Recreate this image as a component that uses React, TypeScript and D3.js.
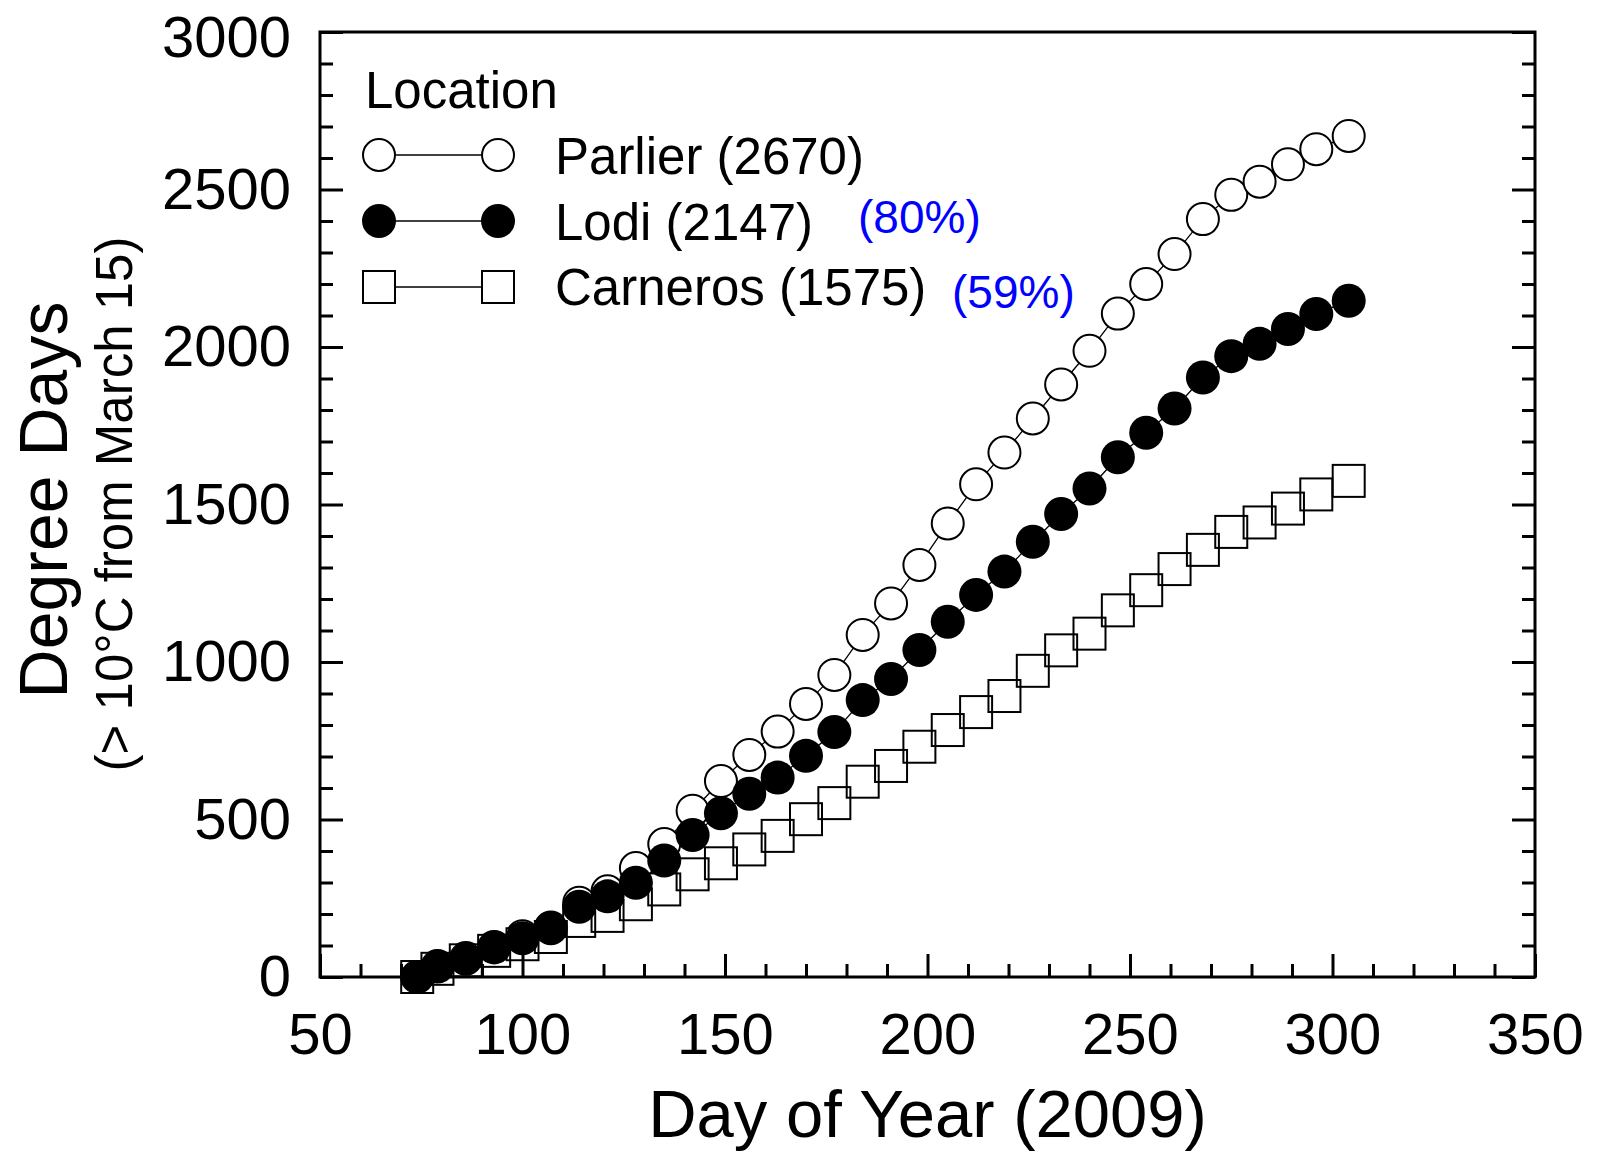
import React, { useEffect, useRef } from 'react';
import * as d3 from 'd3';

// day of year, 2009 (weekly from March 15)
const days = [74, 79, 86, 93, 100, 107, 114, 121, 128, 135, 142, 149, 156, 163, 170, 177, 184,
  191, 198, 205, 212, 219, 226, 233, 240, 247, 254, 261, 268, 275, 282, 289, 296, 304];

const parlier = [0, 35, 60, 95, 129, 157, 236, 272, 346, 422, 528, 622, 705, 779, 867, 959, 1086,
  1186, 1308, 1440, 1564, 1665, 1773, 1881, 1988, 2106, 2200, 2295, 2406, 2483, 2525, 2580, 2628, 2670];

const lodi = [0, 33, 58, 94, 123, 155, 223, 256, 299, 370, 451, 520, 582, 633, 702, 778, 879,
  946, 1038, 1128, 1213, 1287, 1382, 1470, 1551, 1650, 1728, 1805, 1903, 1971, 2010, 2057, 2105, 2147];

const carneros = [0, 26, 53, 83, 104, 127, 178, 194, 231, 278, 326, 361, 405, 448, 501, 552, 620,
  670, 731, 784, 841, 892, 972, 1037, 1090, 1164, 1228, 1295, 1356, 1413, 1443, 1487, 1532, 1575];

const xTicks = [50, 100, 150, 200, 250, 300, 350];
const yTicks = [0, 500, 1000, 1500, 2000, 2500, 3000];

const legendNames = ['Parlier (2670)', 'Lodi (2147)', 'Carneros (1575)'];
const legendPct = ['', '(80%)', '(59%)'];

const W = 1600;
const H = 1151;
const margin = { top: 32, right: 65, bottom: 174, left: 320 };
const FONT = '"Liberation Sans", Arial, Helvetica, sans-serif';

const x = d3.scaleLinear().domain([50, 350]).range([margin.left, W - margin.right]);
const y = d3.scaleLinear().domain([0, 3000]).range([H - margin.bottom, margin.top]);

const R = 16;   // marker radius / half side

export default function App() {
  const axisRef = useRef<SVGGElement>(null);

  useEffect(() => {
    const g = d3.select(axisRef.current);
    g.selectAll('*').remove();

    const xMinor = d3.range(60, 350, 10).filter(v => v % 50 !== 0);
    const yMinor = d3.range(100, 3000, 100).filter(v => v % 500 !== 0);
    const bottomY = H - margin.bottom;
    const rightX = W - margin.right;

    g.append('g').attr('transform', `translate(0,${bottomY})`)
      .call(d3.axisBottom(x).tickValues(xTicks).tickSize(-23).tickPadding(36).tickFormat(d3.format('d')));
    g.append('g').attr('transform', `translate(0,${bottomY})`)
      .call(d3.axisBottom(x).tickValues(xMinor).tickSize(-13).tickFormat(() => ''));

    const left = g.append('g').attr('transform', `translate(${margin.left},0)`)
      .call(d3.axisLeft(y).tickValues(yTicks).tickSize(-23).tickPadding(29).tickFormat(d3.format('d')));
    g.append('g').attr('transform', `translate(${margin.left},0)`)
      .call(d3.axisLeft(y).tickValues(yMinor).tickSize(-13).tickFormat(() => ''));

    g.append('g').attr('transform', `translate(${rightX},0)`)
      .call(d3.axisRight(y).tickValues(yTicks).tickSize(-23).tickFormat(() => ''));
    g.append('g').attr('transform', `translate(${rightX},0)`)
      .call(d3.axisRight(y).tickValues(yMinor).tickSize(-13).tickFormat(() => ''));

    g.selectAll('.domain').remove();
    g.selectAll('.tick line').attr('stroke', '#000').attr('stroke-width', 3);
    g.selectAll('g').attr('font-family', FONT).attr('font-size', 58);
    g.selectAll('.tick text').attr('fill', '#000');
    // top label sits a little lower in the original
    left.selectAll<SVGTextElement, number>('.tick text')
      .filter(d => d === 3000).attr('dy', '0.42em');
  }, []);

  const line = d3.line<number>().x((_, i) => x(days[i])).y(d => y(d));

  return (
    <svg width={W} height={H} style={{ position: 'absolute', left: 0, top: 0, background: '#fff' }}
      fontFamily={FONT}>
      <rect width={W} height={H} fill="#fff" />

      {/* connecting lines */}
      {[parlier, lodi, carneros].map((s, k) => (
        <path key={k} d={line(s) || ''} fill="none" stroke="#000" strokeWidth={1.3} />
      ))}

      {/* Parlier: open circles */}
      {parlier.map((v, i) => (
        <circle key={'p' + i} cx={x(days[i])} cy={y(v)} r={R} fill="#fff" stroke="#000" strokeWidth={2} />
      ))}

      {/* Carneros: open squares, fill first then outlines */}
      {carneros.map((v, i) => (
        <rect key={'cf' + i} x={x(days[i]) - R} y={y(v) - R} width={2 * R} height={2 * R} fill="#fff" />
      ))}
      {carneros.map((v, i) => (
        <rect key={'cs' + i} x={x(days[i]) - R} y={y(v) - R} width={2 * R} height={2 * R}
          fill="none" stroke="#000" strokeWidth={2} />
      ))}

      {/* Lodi: filled circles */}
      {lodi.map((v, i) => (
        <circle key={'l' + i} cx={x(days[i])} cy={y(v)} r={R + 1} fill="#000" />
      ))}

      {/* frame and ticks */}
      <rect x={margin.left} y={margin.top} width={W - margin.left - margin.right}
        height={H - margin.top - margin.bottom} fill="none" stroke="#000" strokeWidth={3} />
      <g ref={axisRef} />

      {/* axis titles */}
      <text x={(margin.left + W - margin.right) / 2} y={1137} textAnchor="middle" fontSize={67}>
        Day of Year (2009)
      </text>
      <text transform="translate(67,500) rotate(-90)" textAnchor="middle" fontSize={68}>Degree Days</text>
      <text transform="translate(132,504) rotate(-90)" textAnchor="middle" fontSize={51}>
        (&gt; 10°C from March 15)
      </text>

      {/* legend */}
      <text x={365} y={108} fontSize={51}>Location</text>
      {legendNames.map((name, k) => {
        const cy = [155, 221, 287][k];
        const base = [174, 240, 305][k];
        const x1 = 379;
        const x2 = 498;
        const marker = (cx: number) => k === 2
          ? <rect x={cx - R} y={cy - R} width={2 * R} height={2 * R} fill="#fff" stroke="#000" strokeWidth={2} />
          : <circle cx={cx} cy={cy} r={k === 1 ? R + 1 : R} fill={k === 1 ? '#000' : '#fff'}
            stroke="#000" strokeWidth={k === 1 ? 0 : 2} />;
        return (
          <g key={name}>
            <line x1={x1} x2={x2} y1={cy} y2={cy} stroke="#000" strokeWidth={1.3} />
            {marker(x1)}
            {marker(x2)}
            <text x={555} y={base} fontSize={51}>{name}</text>
            {legendPct[k] && (
              <text x={k === 1 ? 858 : 952} y={k === 1 ? 233 : 308} fontSize={46} fill="#0000ff">
                {legendPct[k]}
              </text>
            )}
          </g>
        );
      })}
    </svg>
  );
}
